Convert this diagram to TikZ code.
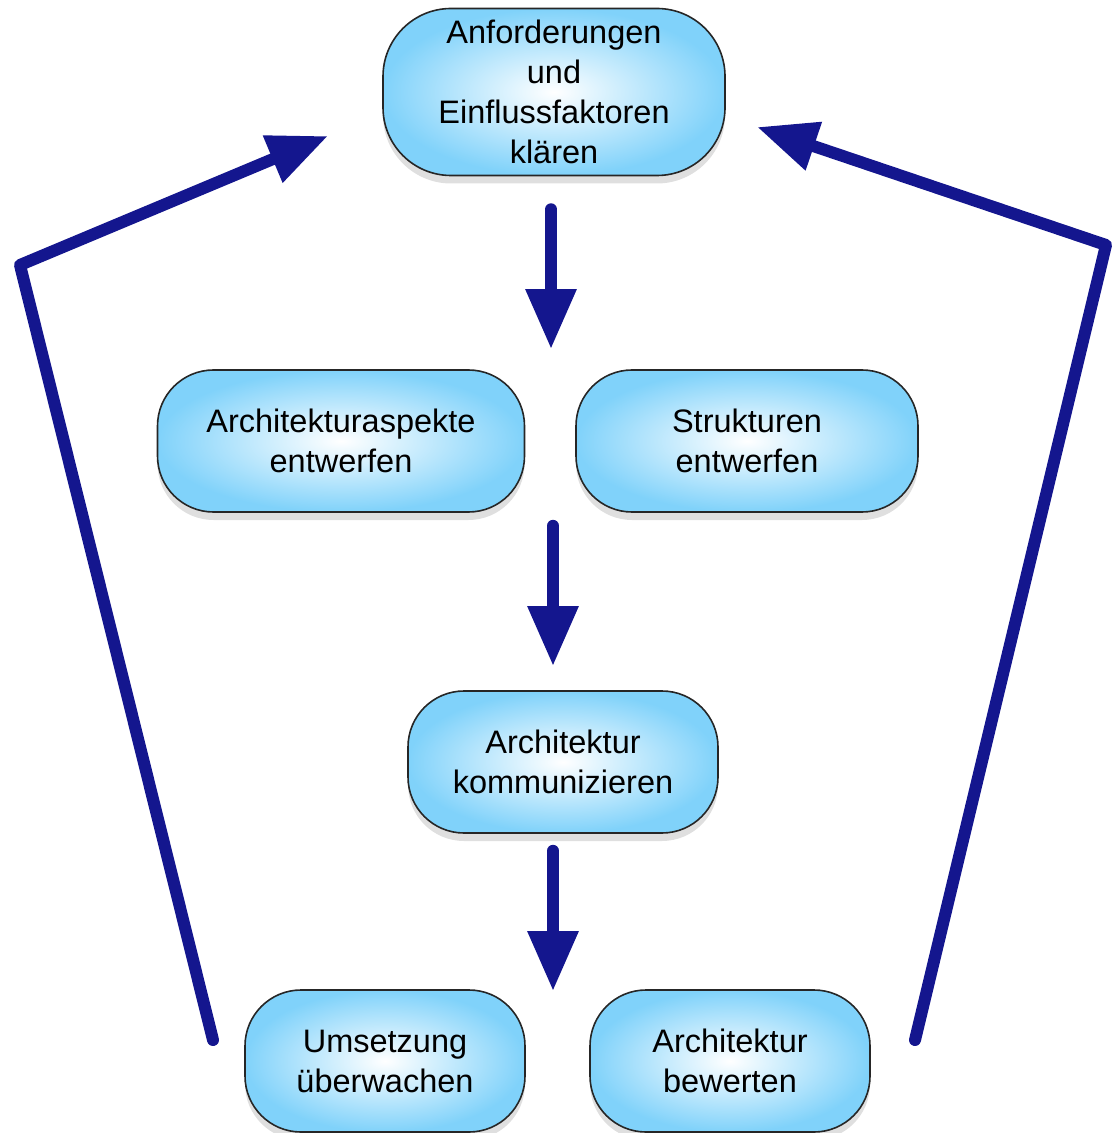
\documentclass[tikz,border=0pt]{standalone}
\usepackage{fontspec}
\setmainfont{Liberation Sans}
\usetikzlibrary{arrows.meta,shadows}
\definecolor{flowblue}{RGB}{20,22,142}
\definecolor{boxblue}{RGB}{128,210,250}
\begin{document}
\begin{tikzpicture}[x=0.5pt,y=-0.5pt,
    task/.style={draw=black!85, line width=0.8pt, rounded corners=28pt,
        inner color=white, outer color=boxblue, align=center, inner sep=0pt,
        minimum height=71pt, font=\fontsize{16.25}{20}\selectfont,
        drop shadow={shadow xshift=0pt, shadow yshift=-4pt, opacity=0.25}},
    flow/.style={draw=flowblue, line width=6pt, line cap=round, line join=round,
        -{Triangle[length=30pt,width=24pt]}}]
    \useasboundingbox (0,0) rectangle (1113,1133);

    % Drawing the tasks
    \node [task, minimum width=171pt, minimum height=83.5pt, rounded corners=34pt] (anf) at (554,92) {Anforderungen\\und\\Einflussfaktoren\\klären};%
    \node [task, minimum width=183.5pt] (asp) at (341,441) {Architekturaspekte\\entwerfen};%
    \node [task, minimum width=171pt] (str) at (747,441) {Strukturen\\entwerfen};%
    \node [task, minimum width=155pt] (kom) at (563,762) {Architektur\\kommunizieren};%
    \node [task, minimum width=140pt] (ums) at (385,1061) {Umsetzung\\überwachen};%
    \node [task, minimum width=140pt] (bew) at (730,1061) {Architektur\\bewerten};%

    % Drawing the downward flow
    \draw [flow, shorten <=16.5pt, shorten >=10pt] ([xshift=-1.5pt]anf.south) -- ([xshift=-1.5pt]anf.south |- asp.north);%
    \draw [flow, shorten <=6.5pt, shorten >=12pt] ([xshift=-5pt]kom.north |- asp.south) -- ([xshift=-5pt]kom.north);%
    \draw [flow, shorten <=8.5pt, shorten >=-1pt] ([xshift=-5pt]kom.south) -- ([xshift=-5pt]kom.south |- ums.north);%

    % Drawing the loop back on the left
    \coordinate (lstart) at (213,1040);%
    \coordinate (lcorner) at (20,265);%
    \coordinate (ltip) at (328,136);%
    \draw [flow] (lstart) -- (lcorner) -- (ltip);%

    % Drawing the loop back on the right
    \coordinate (rstart) at (915,1040);%
    \coordinate (rcorner) at (1106,245);%
    \coordinate (rtip) at (757,127);%
    \draw [flow] (rstart) -- (rcorner) -- (rtip);%
\end{tikzpicture}
\end{document}
